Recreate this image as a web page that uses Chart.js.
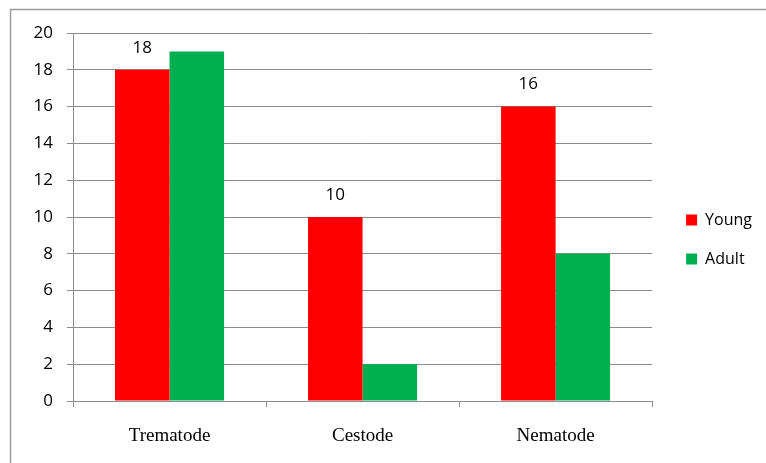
<!DOCTYPE html>
<html>
<head>
<meta charset="utf-8">
<script src="https://cdn.jsdelivr.net/npm/chart.js@4/dist/chart.umd.min.js"></script>
<style>
  html, body { margin: 0; padding: 0; background: #ffffff; }
  #wrap { width: 766px; height: 463px; }
</style>
</head>
<body>
<div id="wrap"><canvas id="c" width="766" height="463"></canvas></div>
<script>
// Parasite counts by group and host age
const categories = ['Trematode', 'Cestode', 'Nematode'];
const youngValues = [18, 10, 16];
const adultValues = [19, 2, 8];
const seriesNames = ['Young', 'Adult'];
const yTicks = [0, 2, 4, 6, 8, 10, 12, 14, 16, 18, 20];

const GRID = '#8c8c8c';
const SANS = '"Open Sans", "Liberation Sans", sans-serif';
const SERIF = '"Liberation Serif", "DejaVu Serif", serif';

// Outer frame around the chart
const framePlugin = {
  id: 'frame',
  beforeDraw(chart) {
    const ctx = chart.ctx;
    ctx.save();
    ctx.fillStyle = '#ffffff';
    ctx.fillRect(0, 0, chart.width, chart.height);
    ctx.strokeStyle = '#9a9a9a';
    ctx.lineWidth = 1.5;
    ctx.strokeRect(10.5, 9.5, 900, 600);
    ctx.restore();
  }
};

// Leave a small gap between the plot and the legend column
const legendGap = {
  id: 'legendGap',
  afterLayout(chart) {
    const lg = chart.legend;
    if (lg) { lg.left += 11; lg.right += 11; }
  }
};

// Value labels above the Young bars
const valueLabels = {
  id: 'valueLabels',
  afterDatasetsDraw(chart) {
    const ctx = chart.ctx;
    const meta = chart.getDatasetMeta(0);
    ctx.save();
    ctx.font = '17px ' + SANS;
    ctx.fillStyle = '#000000';
    ctx.textAlign = 'center';
    ctx.textBaseline = 'middle';
    meta.data.forEach((bar, i) => {
      ctx.fillText(String(youngValues[i]), bar.x, bar.y - 22);
    });
    ctx.restore();
  }
};

new Chart(document.getElementById('c'), {
  type: 'bar',
  data: {
    labels: categories,
    datasets: [
      { label: seriesNames[0], data: youngValues, backgroundColor: '#ff0000', borderWidth: 0 },
      { label: seriesNames[1], data: adultValues, backgroundColor: '#00b050', borderWidth: 0 }
    ]
  },
  options: {
    responsive: false,
    animation: false,
    devicePixelRatio: 1,
    layout: { padding: { top: 33, bottom: 17, left: 0, right: 15 } },
    datasets: { bar: { categoryPercentage: 0.565, barPercentage: 1.0 } },
    scales: {
      x: {
        grid: { offset: true, drawOnChartArea: false, color: GRID, tickLength: 6 },
        border: { color: GRID, width: 1 },
        ticks: { color: '#000000', font: { family: SERIF, size: 19 }, padding: 18 },
        afterFit(scale) { scale.height = 45; }
      },
      y: {
        min: 0,
        max: 20,
        afterBuildTicks(scale) { scale.ticks = yTicks.map(v => ({ value: v })); },
        grid: { color: GRID, tickLength: 6 },
        border: { color: GRID, width: 1 },
        ticks: { color: '#000000', font: { family: SANS, size: 17 }, padding: 14 },
        afterFit(scale) { scale.width = 73; }
      }
    },
    plugins: {
      tooltip: { enabled: false },
      legend: {
        position: 'right',
        labels: {
          boxWidth: 11,
          boxHeight: 11,
          padding: 23,
          color: '#000000',
          font: { family: SANS, size: 16 }
        }
      }
    }
  },
  plugins: [framePlugin, legendGap, valueLabels]
});
</script>
</body>
</html>
